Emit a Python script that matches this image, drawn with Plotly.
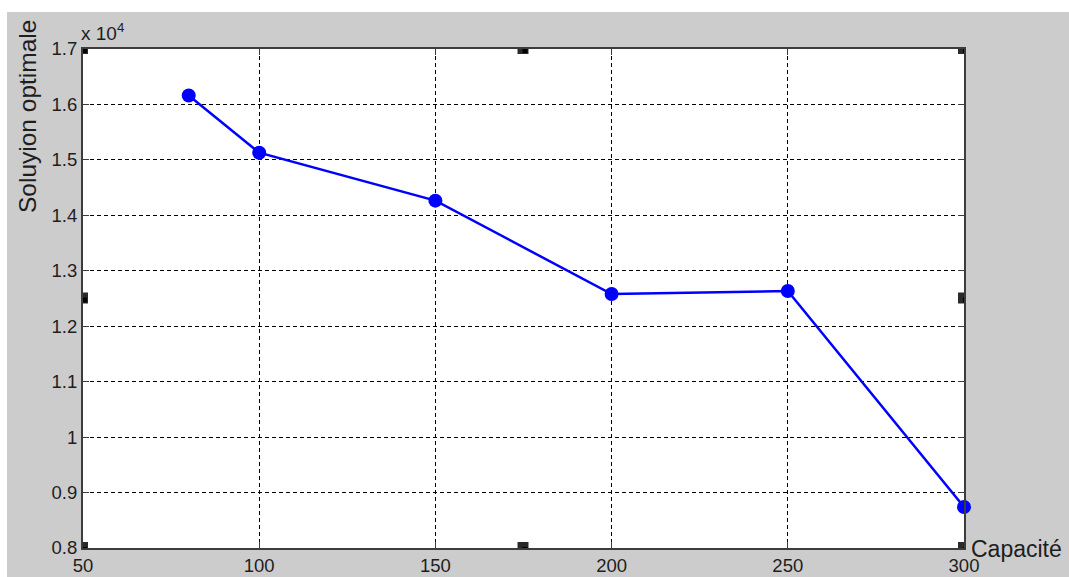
import plotly.graph_objects as go

capacite = [80, 100, 150, 200, 250, 300]
solution = [16160, 15130, 14265, 12580, 12635, 8740]
x_ticks = [50, 100, 150, 200, 250, 300]
y_ticks = [0.8, 0.9, 1.0, 1.1, 1.2, 1.3, 1.4, 1.5, 1.6, 1.7]
y_ticktext = ["0.8", "0.9", "1", "1.1", "1.2", "1.3", "1.4", "1.5", "1.6", "1.7"]
scale = 1e4

W, H = 1069, 577
L, R, T, B = 83, 964, 49, 548
pw, ph = R - L, B - T

def fx(px):
    return (px - L) / pw

def fy(py):
    return (B - py) / ph

FONT = "Liberation Sans, Arial, sans-serif"
TXT = "#1e1e1e"

fig = go.Figure()
fig.add_trace(go.Scatter(
    x=capacite, y=[v / scale for v in solution],
    mode="lines+markers",
    line=dict(color="#0000ff", width=2.5),
    marker=dict(color="#0000ff", size=14, symbol="circle"),
    cliponaxis=False, hoverinfo="skip", showlegend=False,
))

shapes = [
    dict(type="rect", xref="paper", yref="paper", x0=fx(7), x1=fx(W + 5), y0=fy(H + 5), y1=fy(12),
         fillcolor="#cccccc", line=dict(width=0), layer="below"),
    dict(type="rect", xref="paper", yref="paper", x0=0, x1=1, y0=0, y1=1,
         fillcolor="#ffffff", line=dict(width=0), layer="below"),
]
hx = [x_ticks[0], (x_ticks[0] + x_ticks[-1]) / 2, x_ticks[-1]]
hy = [y_ticks[0], (y_ticks[0] + y_ticks[-1]) / 2, y_ticks[-1]]
for xa in hx:
    for ya in hy:
        if xa == hx[1] and ya == hy[1]:
            continue
        shapes.append(dict(type="rect", xref="x", yref="y", xsizemode="pixel", ysizemode="pixel",
                           xanchor=xa, yanchor=ya, x0=-6, x1=5, y0=-5, y1=6,
                           fillcolor="#2a2a2a", line=dict(width=0), layer="above"))
        shapes.append(dict(type="rect", xref="x", yref="y", xsizemode="pixel", ysizemode="pixel",
                           xanchor=xa, yanchor=ya, x0=-1, x1=4, y0=-4, y1=1,
                           fillcolor="#000000", line=dict(width=0), layer="above"))

annotations = [
    dict(text="Capacité", xref="paper", yref="paper", x=fx(969), y=fy(549),
         xanchor="left", yanchor="middle", showarrow=False,
         font=dict(family=FONT, size=23, color=TXT)),
    dict(text="Soluyion optimale", xref="paper", yref="paper", x=fx(27), y=fy(117),
         xanchor="center", yanchor="middle", textangle=-90, showarrow=False,
         font=dict(family=FONT, size=24.5, color=TXT)),
    dict(text="x 10<sup>4</sup>", xref="paper", yref="paper", x=fx(79), y=fy(32),
         xanchor="left", yanchor="middle", showarrow=False,
         font=dict(family=FONT, size=19, color=TXT)),
]

axis_common = dict(
    showgrid=True, gridcolor="#000000", gridwidth=1, griddash="4px,3px",
    showline=True, linecolor="#3c3c3c", linewidth=2, mirror="ticks",
    ticks="inside", ticklen=6, tickcolor="#3c3c3c", tickwidth=1,
    zeroline=False, automargin=False, tickfont=dict(family=FONT, size=18.5, color=TXT),
)

fig.update_layout(
    width=W, height=H, autosize=False,
    margin=dict(l=L, r=W - R, t=T, b=H - B, pad=0, autoexpand=False),
    paper_bgcolor="#ffffff", plot_bgcolor="#ffffff",
    xaxis=dict(range=[x_ticks[0], x_ticks[-1]], tickvals=x_ticks, **axis_common),
    yaxis=dict(range=[y_ticks[0], y_ticks[-1]], tickvals=y_ticks, ticktext=y_ticktext, **axis_common),
    shapes=shapes, annotations=annotations,
)
fig.update_xaxes(ticklabelstandoff=0)
fig.update_yaxes(ticklabelstandoff=0)

fig.write_html("out.html", post_script="document.body.style.margin='0';",
               config={"displayModeBar": False})
